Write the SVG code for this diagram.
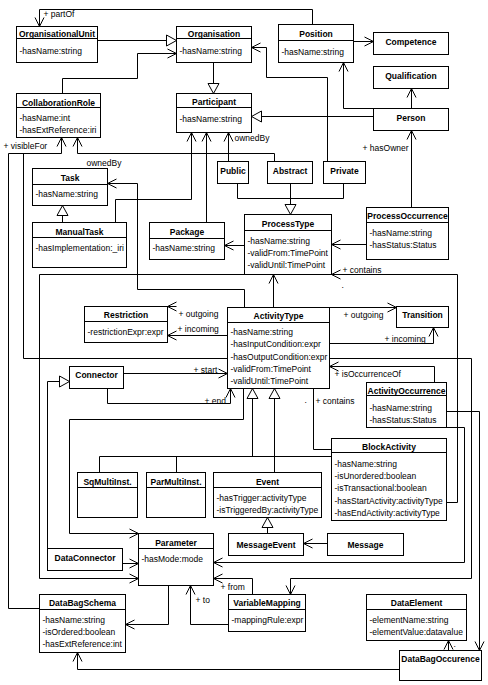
<svg xmlns="http://www.w3.org/2000/svg" width="488" height="685" viewBox="0 0 488 685">
<style>
.b{fill:#fff;stroke:#000;stroke-width:1}
.d{stroke:#000;stroke-width:1}
.h{font-family:"Liberation Sans",Arial,sans-serif;font-size:8.5px;font-weight:bold;text-anchor:middle;fill:#000}
.a{font-family:"Liberation Sans",Arial,sans-serif;font-size:8.5px;fill:#000}
.l{font-family:"Liberation Sans",Arial,sans-serif;font-size:8.5px;fill:#000}
.c{fill:none;stroke:#000;stroke-width:1}
.o{marker-end:url(#open)}
.t{marker-end:url(#tri)}
</style>
<defs>
<marker id="open" markerUnits="userSpaceOnUse" markerWidth="12" markerHeight="12" refX="10" refY="6" orient="auto"><path d="M1,1.5 L10,6 L1,10.5" fill="none" stroke="#000" stroke-width="1"/></marker>
<marker id="tri" markerUnits="userSpaceOnUse" markerWidth="14" markerHeight="14" refX="12" refY="7" orient="auto"><path d="M2,1.5 L12,7 L2,12.5 Z" fill="#fff" stroke="#000" stroke-width="1"/></marker>
</defs>
<rect width="488" height="685" fill="#fff"/>
<g transform="translate(0.5,0.5)">
<g id="connectors">
<path class="c o" d="M312,24 V9 H39 V26"/>
<path class="c t" d="M97,40 H176"/>
<path class="c o" d="M62,93 V78 H137 V53 H176"/>
<path class="c t" d="M213,62 V93"/>
<path class="c t" d="M373,116 H251"/>
<path class="c o" d="M373,108 H343 V62"/>
<path class="c o" d="M353,41 H373"/>
<path class="c o" d="M411,108 V88"/>
<path class="c o" d="M411,207 V130"/>
<path class="c o" d="M327,161 V77 H266 V47 H251"/>
<path class="c o" d="M274,161 V153 H77 V137"/>
<path class="c o" d="M39,608 H8 V153 H61 V137"/>
<path class="c" d="M227,358 H23 V153"/>
<path class="c o" d="M115,222 V199 H191 V132"/>
<path class="c o" d="M206,222 V132"/>
<path class="c o" d="M228,161 V132"/>
<path class="c" d="M237,183 V198 H343 V183"/>
<path class="c t" d="M290,183 V214"/>
<path class="c o" d="M366,244 H331"/>
<path class="c o" d="M244,245 H224"/>
<path class="c o" d="M244,307 V289 H137 V183 H107"/>
<path class="c t" d="M62,222 V205"/>
<path class="c o" d="M244,274 H39 V578 H138"/>
<path class="c o" d="M273,307 V274"/>
<path class="c o" d="M446,502 H457 V274 H331"/>
<path class="c o" d="M176,306 H167"/>
<path class="c o" d="M227,335 H167"/>
<path class="c o" d="M329,307 H396"/>
<path class="c o" d="M329,343 H433 V327"/>
<path class="c o" d="M123,373 H227"/>
<path class="c o" d="M107,388 V403 H230 V388"/>
<path class="c t" d="M47,548 V381 H69"/>
<path class="c o" d="M243,388 V419 H69 V533 H138"/>
<path class="c" d="M99,472 V456 H331 M176,472 V456"/>
<path class="c t" d="M252,456 V388"/>
<path class="c t" d="M274,472 V388"/>
<path class="c" d="M313,388 V449 H331"/>
<path class="c o" d="M434,382 V366 H329"/>
<path class="c o" d="M446,411 H479 V650"/>
<path class="c o" d="M446,427 H464 V562 H213"/>
<path class="c o" d="M329,358 H471 V578 H290 V594"/>
<path class="c o" d="M252,594 V578 H213"/>
<path class="c o" d="M228,624 H190 V585"/>
<path class="c o" d="M168,585 V624 H125"/>
<path class="c o" d="M122,563 H138"/>
<path class="c o" d="M327,543 H303"/>
<path class="c t" d="M267,533 V517"/>
<path class="c o" d="M399,669 H77 V652"/>
<path class="c o" d="M448,650 V640"/>
<text class="l" x="43" y="16">+ partOf</text>
<text class="l" x="362" y="150">+ hasOwner</text>
<text class="l" x="86" y="165">ownedBy</text>
<text class="l" x="234" y="140">ownedBy</text>
<text class="l" x="3" y="148">+ visibleFor</text>
<text class="l" x="342" y="272">+ contains</text>
<text class="l" x="341" y="287">.</text>
<text class="l" x="178" y="316">+ outgoing</text>
<text class="l" x="177" y="331">+ incoming</text>
<text class="l" x="343" y="317">+ outgoing</text>
<text class="l" x="384" y="341">+ incoming</text>
<text class="l" x="193" y="372">+ start</text>
<text class="l" x="204" y="403">+ end</text>
<text class="l" x="315" y="403">+ contains</text>
<text class="l" x="304" y="402">.</text>
<text class="l" x="334" y="376">+ isOccurrenceOf</text>
<text class="l" x="220" y="589">+ from</text>
<text class="l" x="195" y="602">+ to</text>
<text class="l" x="453" y="646">.</text>
</g>
<g id="OrganisationalUnit"><rect class="b" x="16" y="26" width="81" height="36"/><line class="d" x1="16" y1="38" x2="97" y2="38"/><text class="h" x="56.5" y="36">OrganisationalUnit</text><text class="a" x="19" y="53">-hasName:string</text></g>
<g id="Organisation"><rect class="b" x="176" y="26" width="75" height="36"/><line class="d" x1="176" y1="38" x2="251" y2="38"/><text class="h" x="213.5" y="36">Organisation</text><text class="a" x="179" y="53">-hasName:string</text></g>
<g id="Position"><rect class="b" x="278" y="24" width="75" height="38"/><line class="d" x1="278" y1="40" x2="353" y2="40"/><text class="h" x="315.5" y="36">Position</text><text class="a" x="281" y="54">-hasName:string</text></g>
<g id="Competence"><rect class="b" x="373" y="32" width="75" height="22"/><text class="h" x="410.5" y="44">Competence</text></g>
<g id="Qualification"><rect class="b" x="373" y="66" width="75" height="22"/><text class="h" x="410.5" y="78">Qualification</text></g>
<g id="Person"><rect class="b" x="373" y="108" width="75" height="22"/><text class="h" x="410.5" y="120">Person</text></g>
<g id="Participant"><rect class="b" x="176" y="93" width="75" height="39"/><line class="d" x1="176" y1="107" x2="251" y2="107"/><text class="h" x="213.5" y="104">Participant</text><text class="a" x="179" y="121">-hasName:string</text></g>
<g id="CollaborationRole"><rect class="b" x="16" y="93" width="84" height="44"/><line class="d" x1="16" y1="107" x2="100" y2="107"/><text class="h" x="58" y="105">CollaborationRole</text><text class="a" x="19" y="120">-hasName:int</text><text class="a" x="19" y="132">-hasExtReference:iri</text></g>
<g id="Task"><rect class="b" x="32" y="168" width="75" height="37"/><line class="d" x1="32" y1="184" x2="107" y2="184"/><text class="h" x="69.5" y="180">Task</text><text class="a" x="35" y="196">-hasName:string</text></g>
<g id="ManualTask"><rect class="b" x="32" y="222" width="94" height="45"/><line class="d" x1="32" y1="237" x2="126" y2="237"/><text class="h" x="79" y="234">ManualTask</text><text class="a" x="35" y="250">-hasImplementation:_iri</text></g>
<g id="Package"><rect class="b" x="149" y="222" width="75" height="37"/><line class="d" x1="149" y1="238" x2="224" y2="238"/><text class="h" x="186.5" y="234">Package</text><text class="a" x="152" y="250">-hasName:string</text></g>
<g id="Public"><rect class="b" x="217" y="161" width="31" height="22"/><text class="h" x="232.5" y="173">Public</text></g>
<g id="Abstract"><rect class="b" x="267" y="161" width="45" height="22"/><text class="h" x="289.5" y="173">Abstract</text></g>
<g id="Private"><rect class="b" x="323" y="161" width="42" height="22"/><text class="h" x="344" y="173">Private</text></g>
<g id="ProcessType"><rect class="b" x="244" y="214" width="87" height="60"/><line class="d" x1="244" y1="230" x2="331" y2="230"/><text class="h" x="287.5" y="226">ProcessType</text><text class="a" x="247" y="243">-hasName:string</text><text class="a" x="247" y="255">-validFrom:TimePoint</text><text class="a" x="247" y="267">-validUntil:TimePoint</text></g>
<g id="ProcessOccurrence"><rect class="b" x="366" y="207" width="82" height="52"/><line class="d" x1="366" y1="222" x2="448" y2="222"/><text class="h" x="407" y="218">ProcessOccurrence</text><text class="a" x="369" y="235">-hasName:string</text><text class="a" x="369" y="247">-hasStatus:Status</text></g>
<g id="Restriction"><rect class="b" x="84" y="306" width="83" height="36"/><line class="d" x1="84" y1="321" x2="167" y2="321"/><text class="h" x="125.5" y="317">Restriction</text><text class="a" x="87" y="334">-restrictionExpr:expr</text></g>
<g id="ActivityType"><rect class="b" x="227" y="307" width="102" height="81"/><line class="d" x1="227" y1="322" x2="329" y2="322"/><text class="h" x="278" y="318">ActivityType</text><text class="a" x="230" y="334">-hasName:string</text><text class="a" x="230" y="346">-hasInputCondition:expr</text><text class="a" x="230" y="359">-hasOutputCondition:expr</text><text class="a" x="230" y="371">-validFrom:TimePoint</text><text class="a" x="230" y="383">-validUntil:TimePoint</text></g>
<g id="Transition"><rect class="b" x="396" y="306" width="52" height="21"/><text class="h" x="422" y="317">Transition</text></g>
<g id="Connector"><rect class="b" x="69" y="366" width="54" height="22"/><text class="h" x="96" y="377">Connector</text></g>
<g id="ActivityOccurrence"><rect class="b" x="366" y="382" width="80" height="45"/><line class="d" x1="366" y1="395" x2="446" y2="395"/><text class="h" x="406" y="393">ActivityOccurrence</text><text class="a" x="369" y="410">-hasName:string</text><text class="a" x="369" y="422">-hasStatus:Status</text></g>
<g id="BlockActivity"><rect class="b" x="331" y="438" width="115" height="82"/><line class="d" x1="331" y1="452" x2="446" y2="452"/><text class="h" x="388.5" y="449">BlockActivity</text><text class="a" x="334" y="466">-hasName:string</text><text class="a" x="334" y="478">-isUnordered:boolean</text><text class="a" x="334" y="490">-isTransactional:boolean</text><text class="a" x="334" y="503">-hasStartActivity:activityType</text><text class="a" x="334" y="515">-hasEndActivity:activityType</text></g>
<g id="SqMultiInst"><rect class="b" x="77" y="472" width="60" height="45"/><line class="d" x1="77" y1="487" x2="137" y2="487"/><text class="h" x="107" y="484">SqMultiInst.</text></g>
<g id="ParMultiInst"><rect class="b" x="146" y="472" width="59" height="45"/><line class="d" x1="146" y1="487" x2="205" y2="487"/><text class="h" x="175.5" y="484">ParMultiInst.</text></g>
<g id="Event"><rect class="b" x="213" y="472" width="108" height="45"/><line class="d" x1="213" y1="487" x2="321" y2="487"/><text class="h" x="267" y="484">Event</text><text class="a" x="216" y="500">-hasTrigger:activityType</text><text class="a" x="216" y="512">-isTriggeredBy:activityType</text></g>
<g id="MessageEvent"><rect class="b" x="228" y="533" width="75" height="22"/><text class="h" x="265.5" y="547">MessageEvent</text></g>
<g id="Message"><rect class="b" x="327" y="533" width="76" height="22"/><text class="h" x="365" y="547">Message</text></g>
<g id="Parameter"><rect class="b" x="138" y="533" width="75" height="52"/><line class="d" x1="138" y1="548" x2="213" y2="548"/><text class="h" x="175.5" y="545">Parameter</text><text class="a" x="141" y="561">-hasMode:mode</text></g>
<g id="DataConnector"><rect class="b" x="47" y="548" width="75" height="22"/><text class="h" x="84.5" y="560">DataConnector</text></g>
<g id="DataBagSchema"><rect class="b" x="39" y="594" width="86" height="58"/><line class="d" x1="39" y1="609" x2="125" y2="609"/><text class="h" x="82" y="605">DataBagSchema</text><text class="a" x="42" y="622">-hasName:string</text><text class="a" x="42" y="634">-isOrdered:boolean</text><text class="a" x="42" y="646">-hasExtReference:int</text></g>
<g id="VariableMapping"><rect class="b" x="228" y="594" width="77" height="37"/><line class="d" x1="228" y1="609" x2="305" y2="609"/><text class="h" x="266.5" y="605">VariableMapping</text><text class="a" x="231" y="622">-mappingRule:expr</text></g>
<g id="DataElement"><rect class="b" x="366" y="594" width="100" height="46"/><line class="d" x1="366" y1="609" x2="466" y2="609"/><text class="h" x="416" y="605">DataElement</text><text class="a" x="369" y="622">-elementName:string</text><text class="a" x="369" y="634">-elementValue:datavalue</text></g>
<g id="DataBagOccurence"><rect class="b" x="399" y="650" width="82" height="30"/><text class="h" x="440" y="661">DataBagOccurence</text></g>
</g>
</svg>
